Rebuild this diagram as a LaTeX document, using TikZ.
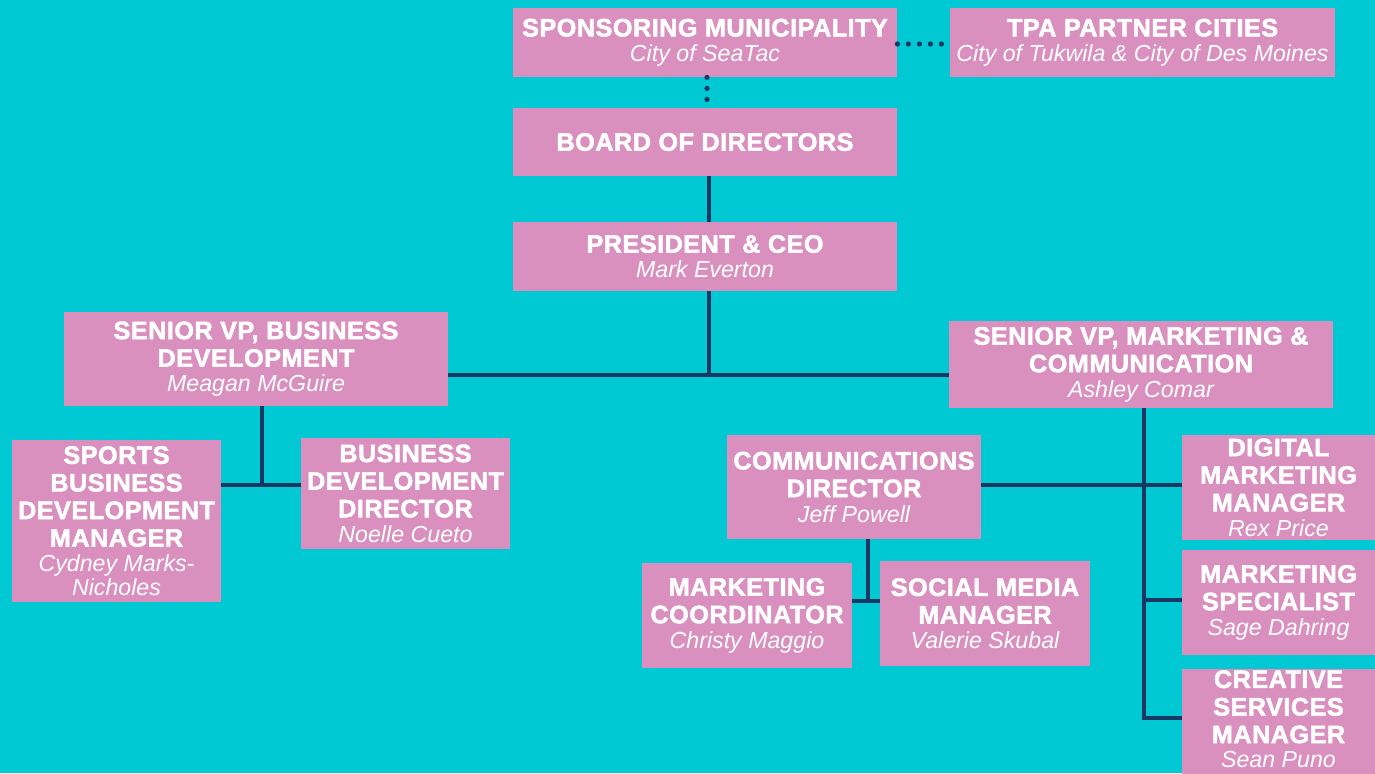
\documentclass[tikz,border=0pt]{standalone}
\usepackage{fontspec}
\newfontfamily\heavyf[FakeBold=2,LetterSpace=2]{Liberation Sans Bold}
\newfontfamily\namef{Liberation Sans Italic}
\definecolor{bgc}{RGB}{0,201,211}
\definecolor{pinkc}{RGB}{218,144,190}
\definecolor{navyc}{RGB}{22,56,99}
\newcommand{\ttl}[1]{{\heavyf\fontsize{12.6}{13.8}\selectfont #1}}
\newcommand{\nm}[1]{{\namef\fontsize{11.6}{12}\selectfont #1}}
\tikzset{
  box/.style={fill=pinkc, text=white, align=center, inner sep=0pt, minimum width=#1*0.5pt,
    font=\fontsize{12.6}{13.8}\selectfont},
  conn/.style={draw=navyc, line width=2pt},
  dotc/.style={draw=navyc, line width=2.6pt, line cap=round, dash pattern=on 0pt off 5.5pt}
}
\begin{document}
\begin{tikzpicture}[x=0.5pt,y=-0.5pt]
\useasboundingbox (0,0) rectangle (1375,773);
\clip (0,0) rectangle (1375,773);
\fill[bgc] (0,0) rectangle (1375,773);

\node[box=384, minimum height=34.5pt] (sm) at (705,42.5) {\ttl{SPONSORING MUNICIPALITY}\\[-1.3pt]\nm{City of SeaTac}};
\node[box=385, minimum height=34.5pt] (tpa) at (1142.5,42.5) {\ttl{TPA PARTNER CITIES}\\[-1.3pt]\nm{City of Tukwila \& City of Des Moines}};
\node[box=384, minimum height=34pt] (bod) at (705,142) {\ttl{BOARD OF DIRECTORS}};
\node[box=384, minimum height=34.5pt] (ceo) at (705,256.5) {\ttl{PRESIDENT \& CEO}\\[-1.3pt]\nm{Mark Everton}};
\node[box=384, minimum height=47pt] (svpbd) at (256,359) {\ttl{SENIOR VP, BUSINESS}\\\ttl{DEVELOPMENT}\\[-1.3pt]\nm{Meagan McGuire}};
\node[box=384, minimum height=43.5pt] (svpmc) at (1141,364.5) {\ttl{SENIOR VP, MARKETING \&}\\\ttl{COMMUNICATION}\\[-1.3pt]\nm{Ashley Comar}};
\node[box=209, minimum height=81pt] (sbdm) at (116.5,521) {\ttl{SPORTS}\\\ttl{BUSINESS}\\\ttl{DEVELOPMENT}\\\ttl{MANAGER}\\[-1.3pt]\nm{Cydney Marks-}\\[-1.8pt]\nm{Nicholes}};
\node[box=209, minimum height=55.5pt] (bdd) at (405.5,493.5) {\ttl{BUSINESS}\\\ttl{DEVELOPMENT}\\\ttl{DIRECTOR}\\[-1.3pt]\nm{Noelle Cueto}};
\node[box=254, minimum height=52pt] (cd) at (854,487) {\ttl{COMMUNICATIONS}\\\ttl{DIRECTOR}\\[-1.3pt]\nm{Jeff Powell}};
\node[box=210, minimum height=52.5pt] (mc) at (747,615.5) {\ttl{MARKETING}\\\ttl{COORDINATOR}\\[-1.3pt]\nm{Christy Maggio}};
\node[box=210, minimum height=52.5pt] (smm) at (985,613.5) {\ttl{SOCIAL MEDIA}\\\ttl{MANAGER}\\[-1.3pt]\nm{Valerie Skubal}};
\node[box=193, minimum height=52.5pt] (dmm) at (1278.5,487.5) {\ttl{DIGITAL}\\\ttl{MARKETING}\\\ttl{MANAGER}\\[-1.3pt]\nm{Rex Price}};
\node[box=193, minimum height=52.5pt] (ms) at (1278.5,602.5) {\ttl{MARKETING}\\\ttl{SPECIALIST}\\[-1.3pt]\nm{Sage Dahring}};
\node[box=193, minimum height=54pt, text depth=4pt] (csm) at (1278.5,723) {\ttl{CREATIVE}\\\ttl{SERVICES}\\\ttl{MANAGER}\\[-1.5pt]\nm{Sean Puno}};

\coordinate (j1) at (709,375);
\coordinate (j2) at (262,485);
\coordinate (r1) at (1144,485);
\coordinate (r2) at (1144,600);
\coordinate (r3) at (1144,718);
\coordinate (c1) at (868,601);

\draw[dotc] (sm.east |- 0,44) -- (tpa.west |- 0,44);
\draw[dotc] (sm.south -| 707,0) -- (bod.north -| 707,0);
\draw[conn] (bod.south -| j1) -- (ceo.north -| j1);
\draw[conn] (ceo.south -| j1) -- (j1);
\draw[conn] (svpbd.east |- j1) -- (svpmc.west |- j1);
\draw[conn] (svpbd.south -| j2) -- (j2);
\draw[conn] (sbdm.east |- j2) -- (bdd.west |- j2);
\draw[conn] (svpmc.south -| r1) -- (r3) -- (csm.west |- r3);
\draw[conn] (cd.east |- r1) -- (dmm.west |- r1);
\draw[conn] (r2) -- (ms.west |- r2);
\draw[conn] (cd.south -| c1) -- (c1);
\draw[conn] (mc.east |- c1) -- (smm.west |- c1);
\end{tikzpicture}
\end{document}
